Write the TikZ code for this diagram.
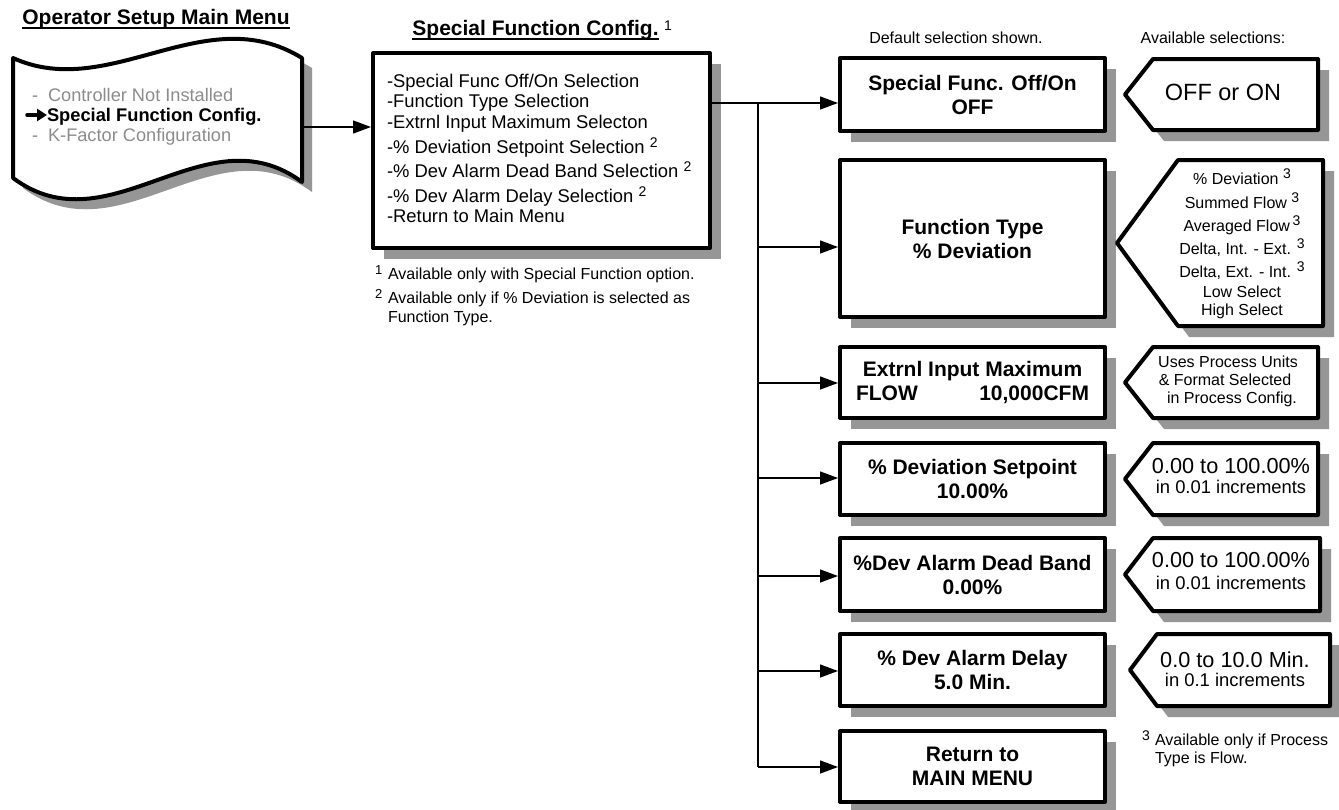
\documentclass[tikz,border=0pt]{standalone}
\usepackage{fontspec}
\setmainfont{Liberation Sans}
\usetikzlibrary{arrows.meta,shadows,calc}
\definecolor{shgray}{RGB}{150,150,150}
\definecolor{txtgray}{RGB}{140,140,140}
\newcommand\fs[1]{\fontsize{#1}{#1}\selectfont}
\newcommand\fsb[2]{\fontsize{#1}{#2}\selectfont}
\newcommand\upn[1]{\raisebox{6pt}{\fs{14}#1}}
\newcommand\selshape[5]{%
  \fill[shgray,shift={(11,11)}] (#1,{(#4+#5)/2}) -- (#2,#4) -- (#3,#4) -- (#3,#5) -- (#2,#5) -- cycle;
  \draw[fill=white,line width=4pt,line join=round] (#1,{(#4+#5)/2}) -- (#2,#4) -- (#3,#4) -- (#3,#5) -- (#2,#5) -- cycle;}
\begin{document}
\begin{tikzpicture}[x=1pt,y=-1pt,
  tx/.style={inner sep=0pt,outer sep=0pt},
  shbox/.style={draw,line width=4pt,fill=white,line join=round,inner sep=0pt,
    drop shadow={shadow xshift=11pt,shadow yshift=-11pt,fill=shgray,opacity=1}},
  rbox/.style={shbox,minimum width=265pt,align=center,font=\bfseries\fsb{21}{24}},
  conn/.style={line width=1.3pt},
  arr/.style={conn,-{Triangle[length=18pt,width=13pt]}}]
\useasboundingbox (0,0) rectangle (1339,809);
\fill[white] (0,0) rectangle (1339,809);

% titles
\node[tx,anchor=base,font=\bfseries\fs{21}] (t0) at (156,24) {Operator Setup Main Menu};
\draw[line width=1.8pt] ($(t0.base west)+(0,4)$) -- ($(t0.base east)+(0,4)$);
\node[tx,anchor=base,font=\bfseries\fs{21}] (t1) at (535.5,35) {Special Function Config.};
\draw[line width=1.8pt] ($(t1.base west)+(0,4)$) -- ($(t1.base east)+(0,4)$);
\node[tx,anchor=base west,font=\fs{14}] (t1s) at (664,30) {1};

% main menu (wavy document)
\fill[shgray,shift={(10,10)}] (13,58) .. controls (110,102) and (205,-2) .. (302,58) -- (302,182) .. controls (205,110) and (110,250) .. (13,178) -- cycle;
\draw[line width=4pt,fill=white,line join=round] (13,58) .. controls (110,102) and (205,-2) .. (302,58) -- (302,182) .. controls (205,110) and (110,250) .. (13,178) -- cycle;
\node[tx,anchor=base west,font=\fs{18.2},text=txtgray] (m1) at (32,101) {-\hspace{10pt}Controller Not Installed};
\node[tx,anchor=base west,font=\bfseries\fs{18.3}] (m2) at (47,121) {Special Function Config.};
\node[tx,anchor=base west,font=\fs{18.2},text=txtgray] (m3) at (32,141) {-\hspace{10pt}K-Factor Configuration};
\coordinate (ptrA) at (27,115);
\coordinate (ptrB) at (47,115);
\draw[line width=3.5pt,line cap=round,-{Triangle[length=10pt,width=12pt]}] (ptrA) -- (ptrB);
\coordinate (docport) at (302,127);

% special function config box
\node[shbox,minimum width=337pt,minimum height=195pt] (main) at (541.5,150.5) {};
\node[tx,anchor=base west,font=\fs{18.4}] (l1) at (387,87) {-Special Func Off/On Selection};
\node[tx,anchor=base west,font=\fs{18.4}] (l2) at (387,107) {-Function Type Selection};
\node[tx,anchor=base west,font=\fs{18.4}] (l3) at (387,128) {-Extrnl Input Maximum Selecton};
\node[tx,anchor=base west,font=\fs{18.4}] (l4) at (387,153) {-\% Deviation Setpoint Selection \upn{2}};
\node[tx,anchor=base west,font=\fs{18.4}] (l5) at (387,177) {-\% Dev Alarm Dead Band Selection \upn{2}};
\node[tx,anchor=base west,font=\fs{18.4}] (l6) at (387,202) {-\% Dev Alarm Delay Selection \upn{2}};
\node[tx,anchor=base west,font=\fs{18.4}] (l7) at (387,222) {-Return to Main Menu};

% footnotes left
\node[tx,anchor=base west,font=\fs{13}] (f1n) at (375,274) {1};
\node[tx,anchor=base west,font=\fs{16}] (f1) at (388,279) {Available only with Special Function option.};
\node[tx,anchor=base west,font=\fs{13}] (f2n) at (375,298) {2};
\node[tx,anchor=base west,font=\fs{16}] (f2) at (388,303) {Available only if \% Deviation is selected as};
\node[tx,anchor=base west,font=\fs{16}] (f2b) at (388,322) {Function Type.};

% headers
\node[tx,anchor=base,font=\fs{16}] (h1) at (956,43) {Default selection shown.};
\node[tx,anchor=base,font=\fs{16}] (h2) at (1213,43) {Available selections:};

% right boxes
\node[rbox,minimum height=73pt] (b1) at (972.5,94.5) {Special Func. Off/On\\OFF};
\node[rbox,minimum height=157pt] (b2) at (972.5,238.5) {Function Type\\\% Deviation};
\node[rbox,minimum height=71pt] (b3) at (972.5,382.5) {Extrnl Input Maximum\\\makebox[233pt]{FLOW\hfill 10,000CFM}};
\node[rbox,minimum height=72pt] (b4) at (972.5,479) {\% Deviation Setpoint\\10.00\%};
\node[rbox,minimum height=73pt] (b5) at (972.5,574.5) {\%Dev Alarm Dead Band\\0.00\%};
\node[rbox,minimum height=72pt] (b6) at (972.5,670) {\% Dev Alarm Delay\\5.0 Min.};
\node[rbox,minimum height=71pt] (b7) at (972.5,766.5) {Return to\\MAIN MENU};

% selection shapes
\selshape{1125}{1153}{1318}{59}{130}
\selshape{1117}{1178}{1323}{160}{326}
\selshape{1125}{1153}{1318}{347}{418}
\selshape{1125}{1153}{1318}{443}{515}
\selshape{1125}{1153}{1320}{538}{611}
\selshape{1130}{1157}{1330}{634}{706}

\node[tx,anchor=base,font=\fs{23.5}] (s1) at (1223,100) {OFF or ON};
\node[tx,anchor=base,font=\fs{16}] (o1) at (1242,184) {\% Deviation \upn{3}};
\node[tx,anchor=base,font=\fs{16}] (o2) at (1242,208) {Summed Flow \upn{3}};
\node[tx,anchor=base,font=\fs{16}] (o3) at (1242,231) {Averaged Flow\,\upn{3}};
\node[tx,anchor=base,font=\fs{16}] (o4) at (1242,254) {Delta, Int. - Ext. \upn{3}};
\node[tx,anchor=base,font=\fs{16}] (o5) at (1242,277) {Delta, Ext. - Int. \upn{3}};
\node[tx,anchor=base,font=\fs{16}] (o6) at (1242,297) {Low Select};
\node[tx,anchor=base,font=\fs{16}] (o7) at (1242,315) {High Select};
\node[tx,anchor=base,font=\fs{16}] (u1) at (1228,367) {Uses Process Units};
\node[tx,anchor=base,font=\fs{16}] (u2) at (1225,385) {\& Format Selected};
\node[tx,anchor=base,font=\fs{16}] (u3) at (1232,403) {in Process Config.};
\node[tx,anchor=base,font=\fs{21.7}] (p4a) at (1231,473) {0.00 to 100.00\%};
\node[tx,anchor=base,font=\fs{18.4}] (p4b) at (1231,493) {in 0.01 increments};
\node[tx,anchor=base,font=\fs{21.7}] (p5a) at (1231,567) {0.00 to 100.00\%};
\node[tx,anchor=base,font=\fs{18.4}] (p5b) at (1231,589) {in 0.01 increments};
\node[tx,anchor=base,font=\fs{21.7}] (p6a) at (1235,667) {0.0 to 10.0 Min.};
\node[tx,anchor=base,font=\fs{18.4}] (p6b) at (1235,686) {in 0.1 increments};

% footnote right
\node[tx,anchor=base west,font=\fs{14}] (f3n) at (1142,740) {3};
\node[tx,anchor=base west,font=\fs{16}] (f3) at (1155,745) {Available only if Process};
\node[tx,anchor=base west,font=\fs{16}] (f3b) at (1155,763) {Type is Flow.};

% connectors
\draw[arr] (docport) -- (docport -| main.west);
\coordinate (j1) at (758,103);
\coordinate (j2) at (758,247);
\coordinate (j3) at (758,383);
\coordinate (j4) at (758,478);
\coordinate (j5) at (758,576);
\coordinate (j6) at (758,671);
\coordinate (j7) at (758,767);
\draw[arr] (j1 -| main.east) -- (j1 -| b1.west);
\draw[conn] (j1) -- (j7);
\draw[arr] (j2) -- (j2 -| b2.west);
\draw[arr] (j3) -- (j3 -| b3.west);
\draw[arr] (j4) -- (j4 -| b4.west);
\draw[arr] (j5) -- (j5 -| b5.west);
\draw[arr] (j6) -- (j6 -| b6.west);
\draw[arr] (j7) -- (j7 -| b7.west);
\end{tikzpicture}
\end{document}
